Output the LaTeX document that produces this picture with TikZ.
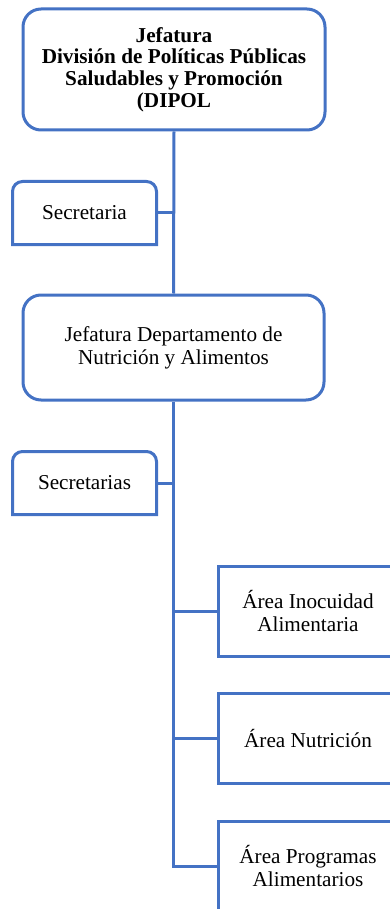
\documentclass[tikz,border=0pt]{standalone}
\usepackage{fontspec}
\setmainfont{Liberation Serif}
\usetikzlibrary{positioning}
\definecolor{orgblue}{RGB}{68,114,196}
\tikzset{
  unit/.style={draw=orgblue, line width=1.5pt, fill=white, align=center, inner sep=2pt, font=\fontsize{10.6}{11.5}\selectfont},
  head/.style={unit, rounded corners=9pt},
  secbox/.style={unit, draw=none, fill=none, minimum width=70.5pt, minimum height=30pt},
  area/.style={unit, minimum width=90pt, minimum height=45pt},
  link/.style={draw=orgblue, line width=1.5pt},
}
\begin{document}
\begin{tikzpicture}[x=0.5pt, y=-0.5pt]
\useasboundingbox (0,0) rectangle (390,909);
\clip (0,0) rectangle (390,909);
% jefaturas
\node[head, minimum width=151pt, minimum height=60.5pt, font=\fontsize{10.6}{10.9}\selectfont\bfseries] (jef) at (174,69.5) {Jefatura\\División de Políticas Públicas\\Saludables y Promoción\\(DIPOL};
\node[head, minimum width=150.5pt, minimum height=52.5pt] (dep) at (173.5,347.5) {Jefatura Departamento de\\Nutrición y Alimentos};
% secretarias
\node[secbox] (sec1) at (84.5,213) {Secretaria};
\node[secbox] (sec2) at (84.5,483) {Secretarias};
\foreach \s in {sec1,sec2}
  \draw[link] (\s.south west) [rounded corners=5pt] -- (\s.north west) -- (\s.north east) [sharp corners] -- (\s.south east) -- cycle;
% areas
\node[area] (a1) at (308,611) {Área Inocuidad\\Alimentaria};
\node[area] (a2) at (308,738.5) {Área Nutrición};
\node[area] (a3) at (308,866) {Área Programas\\Alimentarios};
% lineas
\draw[link] (jef.south) -- (dep.north);
\draw[link] (sec1.east) -- (sec1.east -| jef.south);
\draw[link] (dep.south) |- (a3.west);
\coordinate (trunk) at (dep.south);
\draw[link] (sec2.east) -- (sec2.east -| trunk);
\foreach \a in {a1,a2}
  \draw[link] (\a.west) -- (\a.west -| trunk);
\end{tikzpicture}
\end{document}
